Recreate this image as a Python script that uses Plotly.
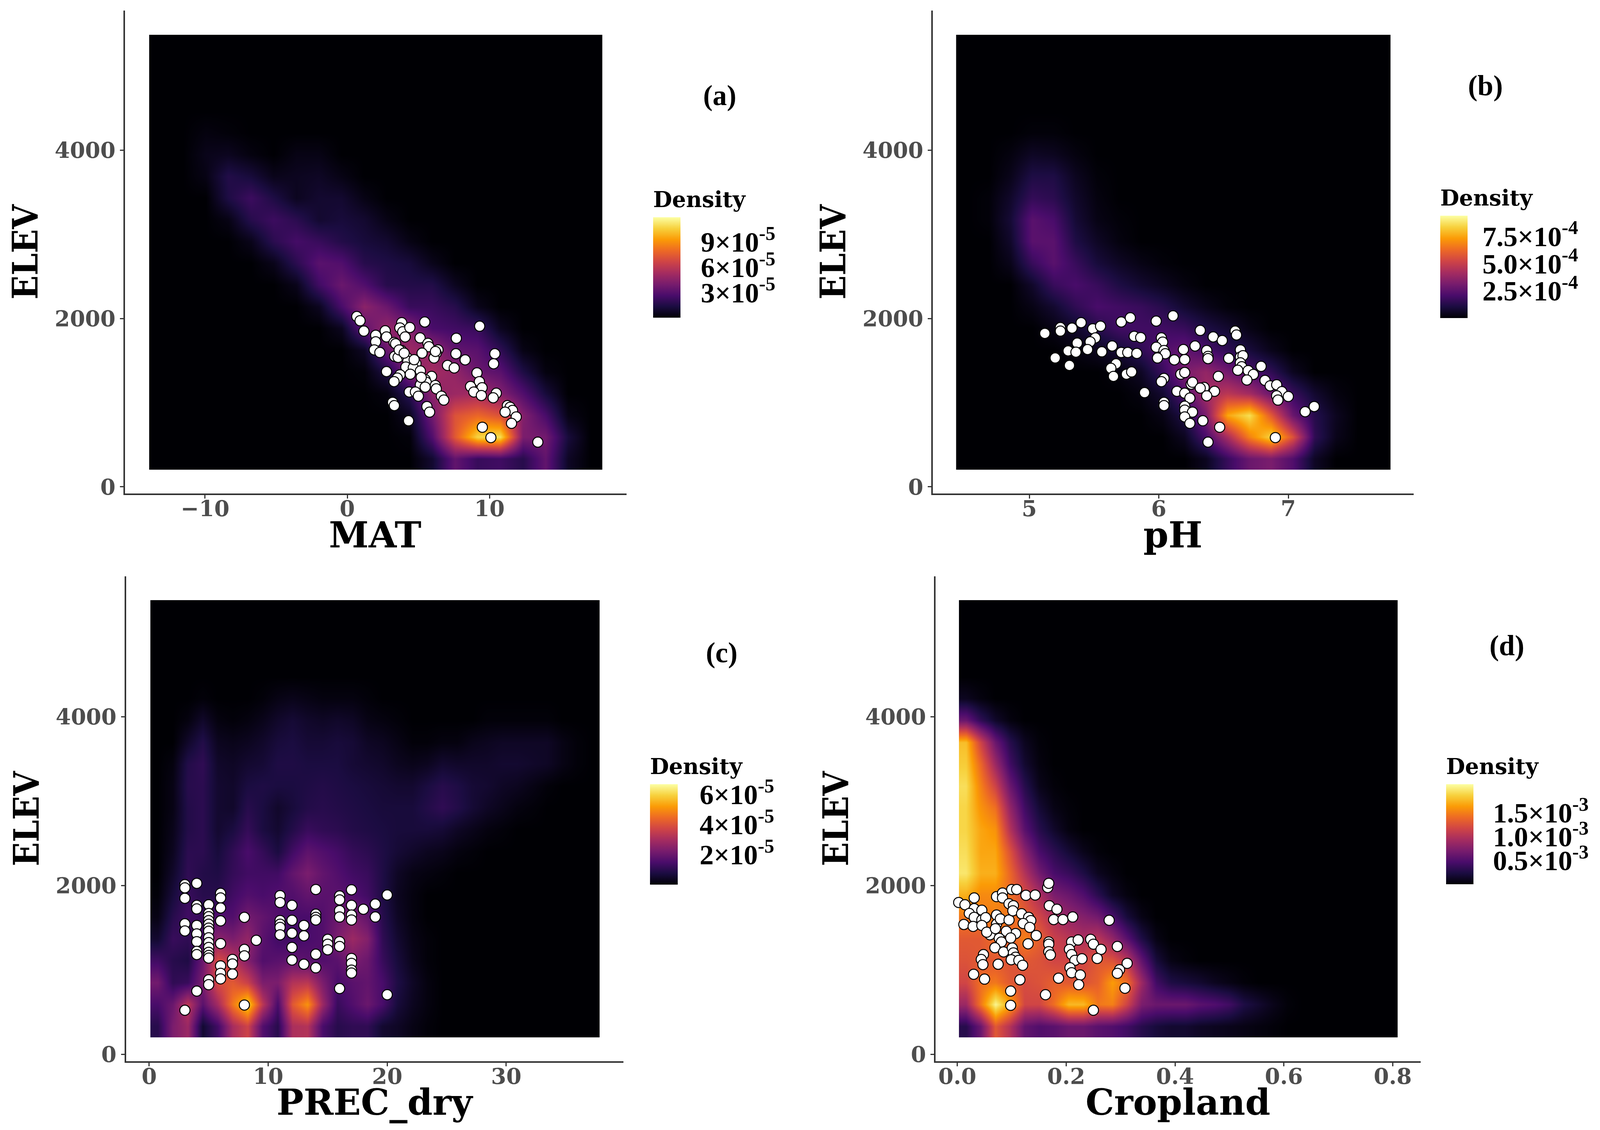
import plotly.graph_objects as go

W, H = 4103, 2892
PAGE = 8  # the page's own margin around the figure
FW, FH = W - 2 * PAGE, H - 2 * PAGE


def px(v):
    return (v - PAGE) / FW


def py(v):
    return 1 - (v - PAGE) / FH


# ---------- site points ----------
mat_x = [.67,.9,1.17,2.0,2.67,2.76,2.0,3.29,1.9,2.29,3.83,3.7,3.9,4.4,4.07,5.45,5.12,5.67,5.74,6.38,6.26,6.1,5.26,3.81,3.33,3.57,4.17,4.26,4.83,4.12,4.64,5.14,2.76,4.43,3.71,3.52,3.29,5.93,5.48,5.55,5.14,5.48,6.19,6.26,4.36,4.79,5.0,6.62,6.79,3.19,3.31,5.6,5.79,4.31,7.67,7.64,8.29,7.05,7.52,9.31,10.38,10.29,9.12,9.29,8.67,9.48,8.9,9.43,10.48,10.26,11.26,11.45,11.62,11.1,11.88,11.55,9.5,10.1,13.4,3.4,3.65,4.0,4.7,5.2,6.2]
mat_y = [2023,1973,1850,1800,1854,1781,1723,1715,1627,1596,1950,1888,1842,1892,1781,1958,1769,1704,1665,1627,1588,1531,1588,1619,1550,1538,1542,1492,1465,1423,1415,1377,1369,1338,1331,1292,1250,1312,1273,1242,1212,1185,1204,1165,1127,1127,1077,1077,1031,1004,965,954,888,785,1765,1581,1508,1442,1412,1908,1581,1462,1354,1250,1192,1177,1127,1085,1112,1058,965,946,908,888,831,754,708,585,531,1700,1627,1588,1510,1300,1608]

ph_x = [5.12,5.24,5.24,5.33,5.4,5.49,5.55,5.51,5.37,5.47,5.3,5.36,5.45,5.56,5.2,5.31,5.64,5.71,5.78,5.81,5.86,5.71,5.76,5.83,5.67,5.63,5.65,5.75,5.79,5.98,6.11,6.02,6.03,5.98,6.04,6.05,5.99,6.12,6.2,6.19,6.28,6.32,6.42,6.49,6.59,6.6,6.37,6.38,6.38,6.54,6.63,6.63,6.65,6.63,6.64,6.61,6.69,6.73,6.79,6.68,6.46,6.17,6.2,6.04,6.02,5.89,6.25,6.26,6.35,6.32,6.43,6.37,6.14,6.2,6.24,6.04,6.04,6.2,6.2,6.26,6.2,6.34,6.24,6.47,6.38,6.9,6.82,6.86,6.91,6.95,6.91,6.92,7.0,7.13,7.2]
ph_y = [1823,1892,1850,1885,1950,1877,1908,1769,1708,1723,1615,1600,1631,1604,1531,1442,1673,1958,2008,1788,1773,1596,1596,1585,1462,1408,1312,1338,1365,1969,2031,1769,1719,1658,1619,1581,1531,1508,1512,1631,1673,1858,1781,1738,1850,1804,1619,1550,1523,1527,1627,1542,1558,1473,1427,1385,1381,1335,1431,1269,1312,1338,1358,1288,1250,1119,1219,1242,1181,1173,1135,1081,1135,1112,1054,1004,965,958,912,888,831,785,754,708,531,585,1265,1200,1212,1131,1081,1031,1073,892,954]

prec_x = [3]*6 + [4]*9 + [5]*15 + [6]*8 + [7]*3 + [8]*4 + [9] + [11]*6 + [12]*5 + [13]*3 + [14]*6 + [15]*3 + [16]*7 + [17]*8 + [18] + [19]*2 + [20]*2
prec_y = [2009,1971,1848,1545,1461,521, 2025,1764,1722,1526,1426,1334,1219,1181,748, 1771,1668,1630,1584,1541,1495,1457,1380,1323,1265,1208,1170,1139,882,824, 1906,1852,1733,1580,1311,1047,959,893, 1123,1070,951, 1622,1242,1166,583, 1350, 1879,1798,1584,1541,1503,1415, 1764,1587,1434,1265,1116, 1526,1403,1066, 1952,1660,1622,1591,1185,1024, 1361,1304,1238, 1875,1829,1702,1626,1334,1277,778, 1948,1764,1649,1591,1135,1077,997,962, 1718, 1779,1626, 1887,705]

crop_x = [.0025,.014,.031,.031,.045,.022,.031,.045,.052,.012,.029,.045,.072,.072,.079,.095,.072,.083,.083,.1,.109,.126,.143,.095,.103,.102,.118,.131,.135,.121,.133,.169,.183,.177,.194,.212,.279,.166,.168,.107,.09,.06,.054,.07,.077,.081,.098,.069,.085,.101,.103,.107,.099,.113,.12,.145,.13,.168,.168,.168,.171,.048,.044,.047,.075,.03,.05,.115,.098,.098,.162,.186,.21,.222,.206,.21,.216,.229,.207,.21,.226,.223,.245,.25,.264,.294,.257,.312,.298,.294,.308,.25]
crop_y = [1798,1771,1852,1725,1706,1668,1622,1591,1618,1537,1514,1526,1649,1541,1603,1591,1867,1910,1852,1952,1952,1883,1886,1783,1760,1699,1664,1622,1584,1549,1503,1760,1718,1595,1595,1626,1587,1975,2025,1430,1457,1415,1446,1488,1373,1330,1377,1262,1212,1258,1200,1150,1120,1112,1054,1407,1308,1330,1304,1215,1177,1181,1123,1062,1066,947,890,882,748,579,705,901,1330,1354,1242,1181,1112,1131,1024,966,939,824,1361,1304,1242,1277,1135,1077,1001,959,782,521]

# ---------- density read by eye, percent of each colour bar, rows from low to high elevation ----------
grid_a = [
 [0,0,0,0,0,0,0,0,0,0,0,0,8,28,18,20,14,28,6],
 [0,0,0,0,0,0,0,0,0,0,0,1,24,62,90,92,34,32,10],
 [0,0,0,0,0,0,0,0,0,0,0,5,32,60,66,60,36,22,3],
 [0,0,0,0,0,0,0,0,0,0,2,15,38,42,44,36,24,10],
 [0,0,0,0,0,0,0,0,0,1,12,35,44,40,30,26,12,2],
 [0,0,0,0,0,0,0,0,0,6,30,42,40,28,26,16,3],
 [0,0,0,0,0,0,0,0,5,28,40,36,22,20,18,5],
 [0,0,0,0,0,0,0,5,22,38,30,18,18,14,4],
 [0,0,0,0,0,0,4,20,30,24,14,13,13,5],
 [0,0,0,0,0,4,15,26,24,14,12,10,4],
 [0,0,0,0,4,15,21,18,13,10,8,3],
 [0,0,0,3,14,19,15,8,10,8,3],
 [0,0,0,12,19,12,5,8,8,3],
 [0,0,3,13,10,4,5,6,3],
 [0,0,4,5,2,0,3,3],
 [0,0,2,1],
 [], [], [], [],
]
grid_b = [
 [0,0,0,0,0,0,0,0,0,0,0,5,18,30,34,24,6],
 [0,0,0,0,0,0,0,0,0,0,5,22,45,72,90,60,16,4],
 [0,0,0,0,0,0,0,0,0,3,12,34,80,92,62,30,14,5],
 [0,0,0,0,0,0,0,0,2,8,24,44,50,44,30,18,8,2],
 [0,0,0,0,0,0,0,2,6,18,34,40,32,22,16,5],
 [0,0,0,0,0,2,5,9,16,24,28,22,16,10,4],
 [0,0,0,0,3,7,14,20,20,20,18,12,8,3],
 [0,0,0,3,8,16,22,20,18,14,8,4,1],
 [0,0,0,7,18,22,18,12,8,5,2],
 [0,0,4,18,26,18,10,6,3,1],
 [0,0,7,26,26,12,6,2],
 [0,1,9,26,22,9,3,1],
 [0,1,7,17,15,7,2],
 [0,0,4,12,12,5,1],
 [0,0,2,6,5,2],
 [0,0,0,1,1],
 [], [], [], [],
]
grid_c = [
 [14,34,42,8,20,45,55,24,14,46,48,22,14,16,16,8,6,3,1],
 [22,30,50,26,44,70,90,50,22,62,76,42,18,24,30,22,10,5,2],
 [32,16,18,34,58,62,54,34,34,48,50,34,22,26,28,22,12,6,2],
 [20,14,12,30,58,50,36,24,26,28,26,24,26,34,30,18,10,4,1],
 [8,18,16,24,38,34,40,26,20,20,22,24,34,42,36,16,8,3,1],
 [3,14,20,18,24,24,32,28,24,22,22,24,30,34,28,14,6,2],
 [1,10,18,14,14,20,24,22,24,24,28,26,26,24,20,12,5,2],
 [0,7,16,13,12,17,20,20,20,28,34,28,24,20,18,12,6,3,2,1],
 [0,5,15,15,10,16,22,17,11,20,27,24,21,17,15,12,9,7,5,4,2,1],
 [0,4,13,15,8,11,17,11,8,13,18,16,15,13,12,11,10,10,10,9,6,4,2,1],
 [0,3,13,15,8,7,14,11,7,10,13,14,13,12,11,10,10,10,13,16,13,9,6,4,2,1],
 [0,3,14,15,8,7,11,12,11,11,12,13,12,11,10,9,8,8,11,14,12,9,8,6,5,3,1],
 [0,2,13,16,7,6,8,9,12,12,11,11,11,9,8,7,5,4,5,8,7,7,7,8,8,7,6,3,1],
 [0,0,7,13,5,4,5,7,10,11,9,9,10,9,6,5,3,1,1,2,2,4,5,6,6,6,6,3,1],
 [0,0,2,7,2,1,2,4,7,9,7,6,7,6,3,2,1,0,0,0,0,0,1,1,1,1,1],
 [0,0,0,1,0,0,0,1,3,4,3,2,2,2,1],
 [], [], [], [],
]
grid_d = [
 [14,30,62,48,28,24,26,30,30,26,24,20,14,10,8,8,6,5,4,3,2,1],
 [42,70,98,80,56,56,68,84,84,70,72,55,34,30,30,30,26,24,20,12,8,4,1],
 [56,68,70,62,58,60,64,62,60,64,78,68,42,20,12,10,8,5,3,1],
 [60,62,62,60,62,60,56,56,56,62,60,50,28,10,3,1],
 [62,62,68,64,72,64,54,50,46,50,40,26,12,3],
 [70,70,72,70,64,56,46,40,36,32,22,10,3],
 [82,74,74,68,58,46,34,30,24,15,6,2],
 [94,82,82,66,48,32,22,18,12,5,2],
 [92,80,80,60,38,22,15,9,4,1],
 [90,80,76,48,26,14,7,2],
 [90,76,68,40,20,9,3,1],
 [92,72,55,30,14,4,1],
 [88,66,42,20,8,2],
 [85,55,30,14,5,1],
 [30,16,7,2],
 [5,2],
 [], [], [], [],
]

x_titles = ["MAT", "pH", "PREC_dry", "Cropland"]
panel_tags = ["(a)", "(b)", "(c)", "(d)"]
x_tickvals = [[-10, 0, 10], [5, 6, 7], [0, 10, 20, 30], [0, .2, .4, .6, .8]]
x_ticktext = [["\u221210", "0", "10"], ["5", "6", "7"], ["0", "10", "20", "30"], ["0.0", "0.2", "0.4", "0.6", "0.8"]]
y_tickvals = [0, 2000, 4000]
cbar_vals = [[3e-5, 6e-5, 9e-5], [2.5e-4, 5e-4, 7.5e-4], [2e-5, 4e-5, 6e-5], [.5e-3, 1e-3, 1.5e-3]]
cbar_text = [["3\u00d710<sup>-5</sup>", "6\u00d710<sup>-5</sup>", "9\u00d710<sup>-5</sup>"],
             ["2.5\u00d710<sup>-4</sup>", "5.0\u00d710<sup>-4</sup>", "7.5\u00d710<sup>-4</sup>"],
             ["2\u00d710<sup>-5</sup>", "4\u00d710<sup>-5</sup>", "6\u00d710<sup>-5</sup>"],
             ["0.5\u00d710<sup>-3</sup>", "1.0\u00d710<sup>-3</sup>", "1.5\u00d710<sup>-3</sup>"]]
z_max = [1.193e-4, 9.38e-4, 6.68e-5, 2.1e-3]

points = [(mat_x, mat_y), (ph_x, ph_y), (prec_x, prec_y), (crop_x, crop_y)]
grids = [grid_a, grid_b, grid_c, grid_d]
n_cols = [20, 20, 30, 30]

# ---------- layout geometry in page pixels ----------
axis_box = [(320, 1604, 27, 1263), (2388, 3619, 27, 1263), (322.5, 1596, 1475, 2716), (2395, 3637, 1475, 2716)]
x_range = [(-15.63, 19.64), (4.255, 7.968), (-1.95, 39.85), (-0.04, 0.8513)]
y_range = [(-79, 5657), (-79, 5657), (-83, 5662), (-83, 5662)]
heat_x = [(-13.93, 17.94), (4.435, 7.79), (0.1, 37.85), (0.003, 0.809)]
heat_y = [(204, 5369), (204, 5369), (199, 5380), (199, 5380)]
cbar_box = [(1672, 1742, 559, 813), (3687, 3757, 555, 814), (1664, 1735, 2010, 2264), (3702, 3772, 2010, 2263)]
cbar_gap = [38, 24, 42, 36]
TITLE_H = 74
tag_xy = [(1842, 244), (3802, 220), (1847, 1670), (3857, 1652)]
xtitle_xy = [(960, 1369), (3002, 1369), (960, 2821), (3015, 2821)]

TICK = "#4d4d4d"
fig = go.Figure()
shapes, annos = [], []
layout = {}
for i in range(4):
    suffix = "" if i == 0 else str(i + 1)
    xa, ya = "x" + suffix, "y" + suffix
    l, r, t, b = axis_box[i]
    layout["xaxis" + suffix] = dict(
        domain=[px(l), px(r)], range=list(x_range[i]), anchor=ya, showgrid=False, zeroline=False,
        showline=True, linecolor="#333333", linewidth=4, ticks="outside", ticklen=9, tickwidth=3, tickcolor="#333333",
        tickvals=x_tickvals[i], ticktext=x_ticktext[i], ticklabelstandoff=-22,
        tickfont=dict(family="DejaVu Serif", size=56, color=TICK, weight="bold"))
    layout["yaxis" + suffix] = dict(
        domain=[py(b), py(t)], range=list(y_range[i]), anchor=xa, showgrid=False, zeroline=False,
        showline=True, linecolor="#333333", linewidth=4, ticks="outside", ticklen=9, tickwidth=3, tickcolor="#333333",
        tickvals=y_tickvals, tickformat="d",
        tickfont=dict(family="DejaVu Serif", size=56, color=TICK, weight="bold"),
        title=dict(text="ELEV", standoff=14, font=dict(family="DejaVu Serif Condensed", size=90, color="black", weight="bold")))

    nc = n_cols[i]
    rows = [[v * z_max[i] / 100 for v in row] + [0] * (nc - len(row)) for row in grids[i]]
    dx = (heat_x[i][1] - heat_x[i][0]) / nc
    dy = (heat_y[i][1] - heat_y[i][0]) / len(rows)
    cl, cr, ct, cb = cbar_box[i]
    fig.add_trace(go.Heatmap(
        z=rows, x0=heat_x[i][0] + dx / 2, dx=dx, y0=heat_y[i][0] + dy / 2, dy=dy, xaxis=xa, yaxis=ya,
        zsmooth="best", colorscale="Inferno", zmin=0, zmax=z_max[i], hoverinfo="skip",
        colorbar=dict(
            x=px(cl), xanchor="left", xpad=0, y=py(cb), yanchor="bottom", ypad=0,
            len=(cb - ct + TITLE_H) / FH, lenmode="fraction",
            thickness=cr - cl, thicknessmode="pixels", outlinewidth=0,
            tickvals=cbar_vals[i], ticktext=cbar_text[i], ticks="outside", ticklen=cbar_gap[i], tickcolor="white", tickwidth=1,
            tickfont=dict(family="Liberation Serif", size=72, color="black", weight="bold"),
            title=dict(text="Density", side="top", font=dict(family="DejaVu Serif", size=56, color="black", weight="bold")))))
    fig.add_trace(go.Scatter(
        x=points[i][0], y=points[i][1], xaxis=xa, yaxis=ya, mode="markers", hoverinfo="skip", showlegend=False,
        marker=dict(size=26, color="white", line=dict(color="black", width=2.5))))
    for v in cbar_vals[i]:
        tick_y = cb - v / z_max[i] * (cb - ct)
        for a, c in ((cl, cl + 15), (cr - 15, cr)):
            shapes.append(dict(type="line", xref="paper", yref="paper", x0=px(a), x1=px(c), y0=py(tick_y), y1=py(tick_y),
                               line=dict(color="rgba(255,255,255,0.55)", width=2)))
    annos.append(dict(text=panel_tags[i], xref="paper", yref="paper", x=px(tag_xy[i][0]), y=py(tag_xy[i][1]),
                      xanchor="center", yanchor="middle", showarrow=False,
                      font=dict(family="Liberation Serif", size=73, color="black", weight="bold")))
    annos.append(dict(text=x_titles[i], xref="paper", yref="paper", x=px(xtitle_xy[i][0]), y=py(xtitle_xy[i][1]),
                      xanchor="center", yanchor="middle", showarrow=False,
                      font=dict(family="DejaVu Serif", size=92, color="black", weight="bold")))

fig.update_layout(width=FW, height=FH, margin=dict(l=0, r=0, t=0, b=0, autoexpand=False), paper_bgcolor="white", plot_bgcolor="white",
                  showlegend=False, shapes=shapes, annotations=annos, **layout)
fig.write_html("out.html")
